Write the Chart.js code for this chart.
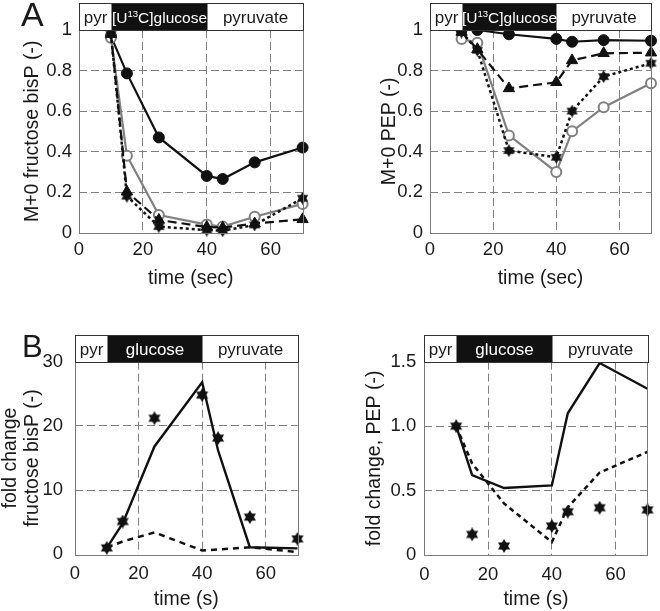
<!DOCTYPE html>
<html><head><meta charset="utf-8">
<script src="https://cdn.jsdelivr.net/npm/chart.js@4.4.1/dist/chart.umd.min.js"></script>
<style>
html,body{margin:0;padding:0;background:#fff;}
#wrap{position:relative;width:660px;height:611px;overflow:hidden;background:#fff;}
canvas{position:absolute;}
</style></head><body>
<div id="wrap">
<canvas id="cA1" width="330" height="300" style="left:0;top:0;width:330px;height:300px"></canvas>
<canvas id="cA2" width="330" height="300" style="left:330px;top:0;width:330px;height:300px"></canvas>
<canvas id="cB1" width="330" height="311" style="left:0;top:300px;width:330px;height:311px"></canvas>
<canvas id="cB2" width="330" height="311" style="left:330px;top:300px;width:330px;height:311px"></canvas>
</div>
<script>
// ---------- data ----------
const times = [10, 15, 25, 40, 45, 55, 70];
const xTicks = [0, 20, 40, 60];
const xRange = [0, 70];
const phaseBounds = [0, 10, 40, 70];
const phaseLabelsA = ['pyr', '[U^13C]glucose', 'pyruvate'];
const phaseLabelsB = ['pyr', 'glucose', 'pyruvate'];

const yTicksA = [0, 0.2, 0.4, 0.6, 0.8, 1];
const yTickLabelsA = ['0', '0.2', '0.4', '0.6', '0.8', '1'];
const yTicksB1 = [0, 10, 20, 30];
const yTickLabelsB1 = ['0', '10', '20', '30'];
const yTicksB2 = [0, 0.5, 1.0, 1.5];
const yTickLabelsB2 = ['0', '0.5', '1.0', '1.5'];

// Panel A left: M+0 fructose bisP
const fbpFilled   = [0.97, 0.786, 0.47, 0.28, 0.265, 0.347, 0.42];
const fbpOpen     = [0.962, 0.38, 0.087, 0.04, 0.03, 0.079, 0.142];
const fbpTriangle = [0.98, 0.202, 0.063, 0.028, 0.025, 0.045, 0.066];
const fbpStar     = [0.98, 0.18, 0.03, 0.013, 0.01, 0.038, 0.17];

// Panel A right: M+0 PEP
const pepFilled   = [1.0, 1.0, 0.979, 0.956, 0.942, 0.95, 0.947];
const pepOpen     = [0.956, 0.937, 0.48, 0.30, 0.50, 0.619, 0.737];
const pepTriangle = [0.99, 0.905, 0.712, 0.742, 0.85, 0.885, 0.888];
const pepStar     = [0.99, 0.90, 0.405, 0.372, 0.60, 0.77, 0.836];

// Panel B left: fold change fructose bisP
const fcFbpSolid  = [1.0, 4.8, 16.8, 26.8, 16.2, 1.1, 0.93];
const fcFbpDashed = [1.0, 2.0, 3.4, 0.6, 0.75, 1.1, 0.35];
const fcFbpStar   = [1.0, 5.1, 21.2, 24.8, 18.1, 5.8, 2.4];

// Panel B right: fold change PEP
const fcPepSolid  = [1.0, 0.62, 0.52, 0.54, 1.10, 1.49, 1.29];
const fcPepDashed = [1.0, 0.71, 0.40, 0.10, 0.37, 0.64, 0.80];
const fcPepStar   = [1.0, 0.16, 0.07, 0.225, 0.336, 0.367, 0.35];

// ---------- helpers ----------
const FONT = "'Liberation Sans', Arial, Helvetica, sans-serif";
const INK = '#1a1a1a';
const GRID = '#808080';

function hexagram(size) {
  const c = document.createElement('canvas');
  c.width = size; c.height = size;
  const g = c.getContext('2d');
  const r = size / 2;
  g.fillStyle = '#111';
  [0, Math.PI].forEach(rot => {
    g.beginPath();
    for (let k = 0; k < 3; k++) {
      const a = rot + k * 2 * Math.PI / 3 - Math.PI / 2;
      g.lineTo(r + r * Math.cos(a), r + r * Math.sin(a));
    }
    g.closePath();
    g.fill();
  });
  return c;
}
const starA = hexagram(13);
const starB = hexagram(14);

const pts = arr => times.map((t, i) => ({x: t, y: arr[i]}));

function richText(ctx, text, cx, baseY, size, color) {
  const parts = text.split(/\^(\d+)/);
  const sup = size * 0.62;
  const widths = parts.map((p, i) => { ctx.font = (i % 2 ? sup : size) + 'px ' + FONT; return ctx.measureText(p).width; });
  const total = widths.reduce((a, b) => a + b, 0);
  let x = cx - total / 2;
  ctx.fillStyle = color;
  ctx.textAlign = 'left';
  ctx.textBaseline = 'alphabetic';
  parts.forEach((p, i) => {
    ctx.font = (i % 2 ? sup : size) + 'px ' + FONT;
    ctx.fillText(p, x, i % 2 ? baseY - size * 0.34 : baseY);
    x += widths[i];
  });
}

function decoPlugin(labels, headerSize, letter) {
  return {
    id: 'deco',
    afterDatasetsDraw(chart) {
      const {ctx, chartArea: a, scales: {x}} = chart;
      const h = 27;
      const top = Math.round(a.top - h) + 0.5;
      const xs = phaseBounds.map(v => Math.round(x.getPixelForValue(v)) + 0.5);
      ctx.save();
      // plot frame
      ctx.strokeStyle = '#7a7a7a';
      ctx.lineWidth = 1;
      ctx.setLineDash([]);
      ctx.strokeRect(Math.round(a.left) + 0.5, Math.round(a.top) + 0.5, Math.round(a.right - a.left), Math.round(a.bottom - a.top));
      // header
      ctx.fillStyle = '#fff';
      ctx.fillRect(xs[0], top, xs[3] - xs[0], Math.round(a.top) + 0.5 - top);
      ctx.fillStyle = '#111';
      ctx.fillRect(xs[1], top, xs[2] - xs[1], Math.round(a.top) + 0.5 - top);
      ctx.strokeStyle = '#333';
      ctx.strokeRect(xs[0], top, xs[3] - xs[0], Math.round(a.top) + 0.5 - top);
      for (let i = 0; i < 3; i++) {
        const cx = (xs[i] + xs[i + 1]) / 2;
        const size = i === 1 ? headerSize : 17;
        richText(ctx, labels[i], cx, top + 19, size, i === 1 ? '#fff' : INK);
      }
      // panel letter
      if (letter) {
        ctx.fillStyle = INK;
        ctx.font = letter.size + 'px ' + FONT;
        ctx.textAlign = 'left';
        ctx.textBaseline = 'alphabetic';
        ctx.fillText(letter.text, letter.x, letter.y);
      }
      ctx.restore();
    }
  };
}

function makeChart(id, cfg) {
  const yMin = cfg.yTicks[0], yMax = cfg.yTicks[cfg.yTicks.length - 1];
  return new Chart(document.getElementById(id), {
    type: 'line',
    data: {datasets: cfg.datasets},
    options: {
      responsive: false,
      animation: false,
      events: [],
      layout: {padding: {top: cfg.top, right: cfg.right, left: 0, bottom: 0}},
      plugins: {legend: {display: false}, tooltip: {enabled: false}},
      elements: {line: {tension: 0}},
      datasets: {line: {clip: false}},
      scales: {
        x: {
          type: 'linear', min: xRange[0], max: xRange[1],
          afterBuildTicks: s => { s.ticks = xTicks.map(v => ({value: v})); },
          afterFit: s => { s.height = cfg.xH; },
          grid: {color: c => (c.tick && (c.tick.value === xRange[0] || c.tick.value === xRange[1])) ? 'rgba(0,0,0,0)' : GRID, lineWidth: 1, drawTicks: false},
          border: {display: false, dash: [8, 4]},
          ticks: {font: {family: FONT, size: 18.5}, color: INK, padding: cfg.xPad, maxRotation: 0, autoSkip: false},
          title: {display: true, text: cfg.xTitle, font: {family: FONT, size: 19.5}, color: INK, padding: {top: 0, bottom: cfg.xTitlePad}}
        },
        y: {
          type: 'linear', min: yMin, max: yMax,
          afterBuildTicks: s => { s.ticks = cfg.yTicks.map(v => ({value: v})); },
          afterFit: s => { s.width = cfg.yW; },
          grid: {color: c => (c.tick && (c.tick.value === yMin || c.tick.value === yMax)) ? 'rgba(0,0,0,0)' : GRID, lineWidth: 1, drawTicks: false},
          border: {display: false, dash: [8, 4]},
          ticks: {font: {family: FONT, size: 18.5}, color: INK, padding: cfg.yPad, autoSkip: false,
                  callback: (v, i) => cfg.yLabels[i]},
          title: {display: true, text: cfg.yTitle, font: {family: FONT, size: cfg.yTitleSize || 19.5, lineHeight: cfg.yTitleLH || 1.2}, color: INK, padding: {top: cfg.yTitlePad, bottom: 0}}
        }
      }
    },
    plugins: [decoPlugin(cfg.phases, cfg.headerSize, cfg.letter)]
  });
}

function aSets(filled, open, tri, star) {
  return [
    {data: pts(star), borderColor: '#111', borderWidth: 2.5, borderDash: [3, 3], pointStyle: starA, pointRadius: 6.5},
    {data: pts(tri), borderColor: '#111', borderWidth: 2.2, borderDash: [9, 5], pointStyle: 'triangle', pointRadius: 6.5, pointBackgroundColor: '#111', pointBorderColor: '#111', pointBorderWidth: 1},
    {data: pts(open), borderColor: '#808080', borderWidth: 2.2, pointStyle: 'circle', pointRadius: 5, pointBackgroundColor: '#fff', pointBorderColor: '#808080', pointBorderWidth: 2},
    {data: pts(filled), borderColor: '#111', borderWidth: 2.2, pointStyle: 'circle', pointRadius: 5.5, pointBackgroundColor: '#111', pointBorderColor: '#111', pointBorderWidth: 1}
  ];
}

function bSets(solid, dashed, star, dash) {
  return [
    {data: pts(star), showLine: false, pointStyle: starB, pointRadius: 7},
    {data: pts(dashed), borderColor: '#111', borderWidth: 2.5, borderDash: dash, pointRadius: 0},
    {data: pts(solid), borderColor: '#111', borderWidth: 2.4, pointRadius: 0}
  ];
}

makeChart('cA1', {
  datasets: aSets(fbpFilled, fbpOpen, fbpTriangle, fbpStar),
  yTicks: yTicksA, yLabels: yTickLabelsA,
  top: 30, right: 27.4, xH: 67.3, yW: 79, xPad: 6, yPad: 7,
  xTitle: 'time (sec)', xTitlePad: 9.3,
  yTitle: 'M+0 fructose bisP (-)', yTitlePad: 21.3,
  phases: phaseLabelsA, headerSize: 15.5,
  letter: {text: 'A', x: 21, y: 26, size: 34}
});

makeChart('cA2', {
  datasets: aSets(pepFilled, pepOpen, pepTriangle, pepStar),
  yTicks: yTicksA, yLabels: yTickLabelsA,
  top: 30, right: 7.4, xH: 67.3, yW: 100, xPad: 6, yPad: 7,
  xTitle: 'time (sec)', xTitlePad: 9.3,
  yTitle: 'M+0 PEP (-)', yTitlePad: 48.3,
  phases: phaseLabelsA, headerSize: 15.5,
  letter: null
});

makeChart('cB1', {
  datasets: bSets(fcFbpSolid, fcFbpDashed, fcFbpStar, [6, 5]),
  yTicks: yTicksB1, yLabels: yTickLabelsB1,
  top: 61.7, right: 32.5, xH: 56.7, yW: 75, xPad: 9, yPad: 12,
  xTitle: 'time (s)', xTitlePad: 0,
  yTitle: ['fold change', 'fructose bisP (-)'], yTitlePad: 0.3, yTitleLH: 1.1,
  phases: phaseLabelsB, headerSize: 17,
  letter: {text: 'B', x: 22, y: 57, size: 31}
});

makeChart('cB2', {
  datasets: bSets(fcPepSolid, fcPepDashed, fcPepStar, [5, 4]),
  yTicks: yTicksB2, yLabels: yTickLabelsB2,
  top: 61.7, right: 12.5, xH: 56, yW: 94.3, xPad: 8.6, yPad: 8,
  xTitle: 'time (s)', xTitlePad: 0,
  yTitle: 'fold change, PEP (-)', yTitlePad: 33.3,
  phases: phaseLabelsB, headerSize: 17,
  letter: null
});
</script>
</body></html>
